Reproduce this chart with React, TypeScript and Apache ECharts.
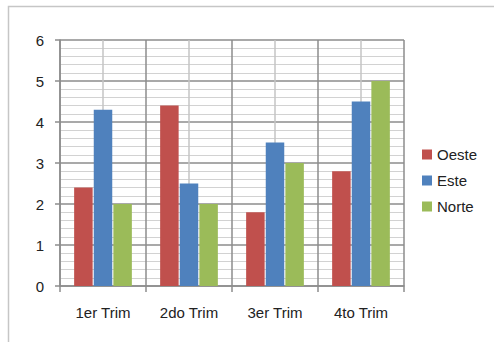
import React, { useEffect, useRef } from "react";
import * as echarts from "echarts";

const categories = ["1er Trim", "2do Trim", "3er Trim", "4to Trim"];
const oeste = [2.4, 4.4, 1.8, 2.8];
const este = [4.3, 2.5, 3.5, 4.5];
const norte = [2, 2, 3, 5];
const seriesNames = ["Oeste", "Este", "Norte"];
const colors = ["#C0504D", "#4F81BD", "#9BBB59"];

const FONT = "'Liberation Sans', Arial, sans-serif";
const MAJOR = "#8c8c8c";
const MINOR = "#d2d2d2";
const CENTER = "#c4c4c4";

export default function App() {
  const ref = useRef<HTMLDivElement>(null);
  useEffect(() => {
    if (!ref.current) return;
    const chart = echarts.init(ref.current, null, { renderer: "svg" });
    const data = [oeste, este, norte];
    chart.setOption({
      animation: false,
      backgroundColor: "#ffffff",
      graphic: [
        {
          type: "rect",
          shape: { x: 8.5, y: 6.5, width: 520, height: 400 },
          style: { fill: "none", stroke: "#c6c6c6", lineWidth: 1.5 },
          silent: true,
        },
      ],
      grid: { left: 60, right: 90, top: 40, bottom: 56, containLabel: false },
      legend: {
        orient: "vertical",
        left: 417,
        top: 142,
        itemWidth: 10,
        itemHeight: 10,
        itemGap: 11,
        icon: "rect",
        data: seriesNames,
        textStyle: { fontFamily: FONT, fontSize: 15, color: "#222" },
      },
      xAxis: [
        {
          type: "category",
          data: categories,
          boundaryGap: true,
          axisLine: { show: true, lineStyle: { color: MAJOR, width: 1.5 } },
          axisTick: { show: true, length: 6, lineStyle: { color: MAJOR, width: 1.5 } },
          axisLabel: { fontFamily: FONT, fontSize: 15, color: "#222", margin: 19 },
          splitLine: { show: false },
        },
        {
          type: "value",
          min: 0,
          max: 8,
          interval: 1,
          position: "top",
          axisLine: { show: false },
          axisTick: { show: false },
          axisLabel: { show: false },
          splitLine: { show: true, lineStyle: { color: [MAJOR, CENTER], width: 1.5 } },
        },
      ],
      yAxis: {
        type: "value",
        min: 0,
        max: 6,
        interval: 1,
        axisLine: { show: true, lineStyle: { color: MAJOR, width: 1.5 } },
        axisTick: { show: true, length: 5, lineStyle: { color: MAJOR, width: 1.5 } },
        axisLabel: { fontFamily: FONT, fontSize: 15, color: "#222", margin: 16 },
        splitLine: { show: true, lineStyle: { color: MAJOR, width: 1.5 } },
        minorTick: { show: false, splitNumber: 5 },
        minorSplitLine: { show: true, lineStyle: { color: MINOR, width: 1.2 } },
      },
      series: seriesNames.map((name, i) => ({
        type: "bar",
        name,
        xAxisIndex: 0,
        data: data[i],
        barWidth: 18.5,
        barGap: "6%",
        itemStyle: { color: colors[i] },
      })),
    });
    return () => chart.dispose();
  }, []);
  return (
    <div
      ref={ref}
      style={{ position: "fixed", left: 0, top: 0, width: 494, height: 342 }}
    />
  );
}
